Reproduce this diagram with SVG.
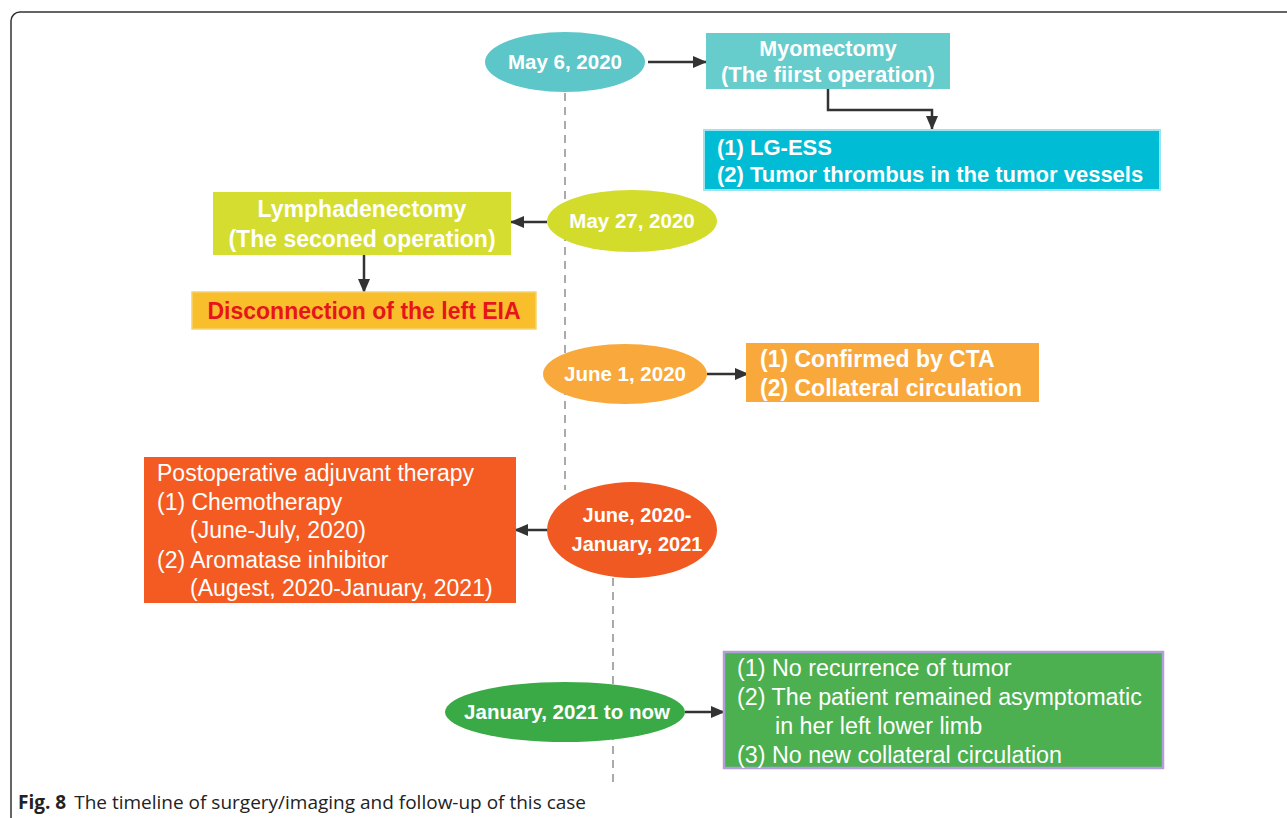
<svg xmlns="http://www.w3.org/2000/svg" width="1287" height="818" viewBox="0 0 1287 818">
<defs>
<marker id="ah" viewBox="0 0 14 12" refX="13" refY="6" markerWidth="14" markerHeight="12" markerUnits="userSpaceOnUse" orient="auto">
<path d="M0,0 L14,6 L0,12 z" fill="#333"/>
</marker>
<style>
.b{font-family:"Liberation Sans",Arial,sans-serif;font-weight:bold;fill:#fff}
.r{font-family:"Liberation Sans",Arial,sans-serif;fill:#fff}
.c{text-anchor:middle}
.con{stroke:#333;stroke-width:2.5;fill:none;marker-end:url(#ah)}
.dash{stroke:#aaa;stroke-width:2;stroke-dasharray:8,6;fill:none}
</style>
</defs>
<rect width="1287" height="818" fill="#fff"/>
<rect x="11" y="12" width="1300" height="830" rx="9" fill="none" stroke="#333" stroke-width="1.5"/>
<g id="timeline">
<line class="dash" x1="565" y1="93" x2="565" y2="490"/>
<line class="dash" x1="613" y1="578" x2="613" y2="782"/>
</g>
<g id="connectors">
<line class="con" x1="648" y1="62" x2="706" y2="62"/>
<path class="con" d="M828,89 V110 H932 V129"/>
<line class="con" x1="547" y1="222" x2="511" y2="222"/>
<line class="con" x1="364" y1="255" x2="364" y2="292"/>
<line class="con" x1="707" y1="374" x2="748" y2="374"/>
<line class="con" x1="548" y1="530" x2="515" y2="530"/>
<line class="con" x1="685" y1="712" x2="724" y2="712"/>
</g>
<g id="n-may6">
<ellipse cx="565" cy="62" rx="80" ry="30" fill="#5CC6C9"/>
<text class="b c" x="565" y="69" font-size="20.5">May 6, 2020</text>
</g>
<g id="n-myomectomy">
<rect x="706" y="33" width="244" height="56" fill="#66CCCC"/>
<text class="b c" x="828" y="56" font-size="21.5">Myomectomy</text>
<text class="b c" x="828" y="82" font-size="22">(The fiirst operation)</text>
</g>
<g id="n-lgess">
<rect x="704" y="130" width="456" height="60" fill="#00BCD4" stroke="#9EE4EE" stroke-width="2"/>
<text class="b" x="717" y="155" font-size="22">(1) LG-ESS</text>
<text class="b" x="717" y="182" font-size="22">(2) Tumor thrombus in the tumor vessels</text>
</g>
<g id="n-may27">
<ellipse cx="632" cy="221" rx="85" ry="31" fill="#D3DC2B"/>
<text class="b c" x="632" y="228" font-size="20.5">May 27, 2020</text>
</g>
<g id="n-lymph">
<rect x="213" y="192" width="298" height="63" fill="#D4DD30"/>
<text class="b c" x="362" y="217" font-size="23">Lymphadenectomy</text>
<text class="b c" x="362" y="247" font-size="23">(The seconed operation)</text>
</g>
<g id="n-eia">
<rect x="192" y="292" width="344" height="37" fill="#F9BE2C" stroke="#F4D36B" stroke-width="1.5"/>
<text x="364" y="319" font-size="23" class="c" font-family="Liberation Sans,Arial,sans-serif" font-weight="bold" fill="#E8141B">Disconnection of the left EIA</text>
</g>
<g id="n-june1">
<ellipse cx="625" cy="374" rx="82" ry="30" fill="#F9A93B"/>
<text class="b c" x="625" y="381" font-size="20.5">June 1, 2020</text>
</g>
<g id="n-cta">
<rect x="746" y="343" width="293" height="59" fill="#F9A83C"/>
<text class="b" x="760" y="367" font-size="23">(1) Confirmed by CTA</text>
<text class="b" x="760" y="396" font-size="23">(2) Collateral circulation</text>
</g>
<g id="n-junejan">
<ellipse cx="632" cy="530" rx="85" ry="48" fill="#F05A22"/>
<text class="b c" x="637" y="522" font-size="20">June, 2020-</text>
<text class="b c" x="637" y="551" font-size="20">January, 2021</text>
</g>
<g id="n-therapy">
<rect x="144" y="457" width="372" height="146" fill="#F45B22"/>
<text class="r" x="157" y="481" font-size="23">Postoperative adjuvant therapy</text>
<text class="r" x="157" y="510" font-size="23">(1) Chemotherapy</text>
<text class="r" x="190" y="538" font-size="23">(June-July, 2020)</text>
<text class="r" x="157" y="568" font-size="23">(2) Aromatase inhibitor</text>
<text class="r" x="190" y="596" font-size="23">(Augest, 2020-January, 2021)</text>
</g>
<g id="n-jan2021">
<ellipse cx="565" cy="712" rx="120" ry="30" fill="#3AAA47"/>
<text class="b c" x="567" y="719" font-size="20.5">January, 2021 to now</text>
</g>
<g id="n-followup">
<rect x="724" y="652" width="439" height="116" fill="#4CAF50" stroke="#B39DDB" stroke-width="2.5"/>
<text class="r" x="737" y="676" font-size="23.3">(1) No recurrence of tumor</text>
<text class="r" x="737" y="705" font-size="23.3">(2) The patient remained asymptomatic</text>
<text class="r" x="775" y="734" font-size="23.3">in her left lower limb</text>
<text class="r" x="737" y="763" font-size="23.3">(3) No new collateral circulation</text>
</g>
<g id="caption">
<text x="18" y="809" font-size="19" font-family="Open Sans,Noto Sans,sans-serif" fill="#222"><tspan font-weight="bold">Fig. 8</tspan><tspan dx="8">The timeline of surgery/imaging and follow-up of this case</tspan></text>
</g>
</svg>
